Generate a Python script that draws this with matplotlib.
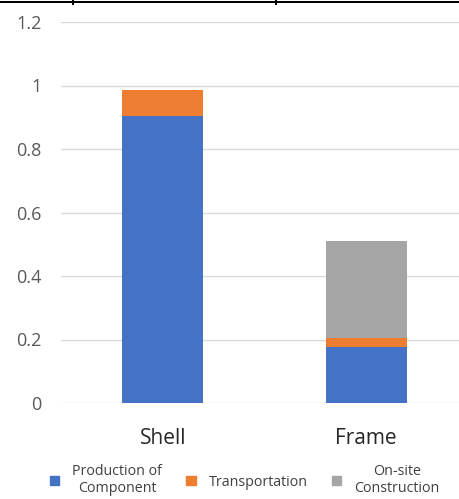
import matplotlib
matplotlib.use("Agg")
import matplotlib.pyplot as plt
from matplotlib.patches import Patch

plt.rcParams['font.family'] = ['Open Sans', 'DejaVu Sans']

categories = ['Shell', 'Frame']
production = [0.904, 0.175]
transport = [0.082, 0.029]
onsite = [0.0, 0.305]
series_names = ['Production of\nComponent', 'Transportation', 'On-site\nConstruction']
colors = ['#4472C4', '#ED7D31', '#A5A5A5']
yticks = [0, 0.2, 0.4, 0.6, 0.8, 1, 1.2]
ytick_labels = ['0', '0.2', '0.4', '0.6', '0.8', '1', '1.2']

fig = plt.figure(figsize=(4.59, 4.99), dpi=100)
ax = fig.add_axes([61/459, 1-403/499, 407/459, 381/499])

x = range(len(categories))
bottom2 = [a + b for a, b in zip(production, transport)]
ax.bar(x, production, width=0.4, color=colors[0], zorder=3)
ax.bar(x, transport, width=0.4, bottom=production, color=colors[1], zorder=3)
ax.bar(x, onsite, width=0.4, bottom=bottom2, color=colors[2], zorder=3)

ax.set_xlim(-0.5, 1.5)
ax.set_ylim(0, 1.2)
ax.set_yticks(yticks)
ax.set_yticklabels(ytick_labels)
ax.set_xticks(list(x))
ax.set_xticklabels(categories, fontsize=15, color='#262626')
ax.grid(axis='y', color='#D9D9D9', lw=1, zorder=0)
for s in ax.spines.values():
    s.set_visible(False)
ax.tick_params(axis='y', length=0, labelsize=13, labelcolor='#595959', pad=14)
ax.tick_params(axis='x', length=0, pad=18)

handles = [Patch(color=c) for c in colors]
leg = fig.legend(handles, series_names, ncol=3, loc='center', bbox_to_anchor=(0.533, 1-480/499),
                 frameon=False, fontsize=10.3, handlelength=0.65, handleheight=0.65,
                 handletextpad=0.9, columnspacing=1.7)
for t in leg.get_texts():
    t.set_multialignment('center')
    t.set_color('#404040')

# table border at top
top = fig.add_axes([0, 1-8/499, 1, 8/499])
top.set_xlim(0, 459)
top.set_ylim(8, 0)
top.axis('off')
top.fill_between([0, 459], 1, 3.2, color='black', lw=0)
for xp in [73, 276]:
    top.fill_between([xp - 1, xp + 1], 0, 5, color='black', lw=0)

fig.savefig('out.png', dpi=100)
